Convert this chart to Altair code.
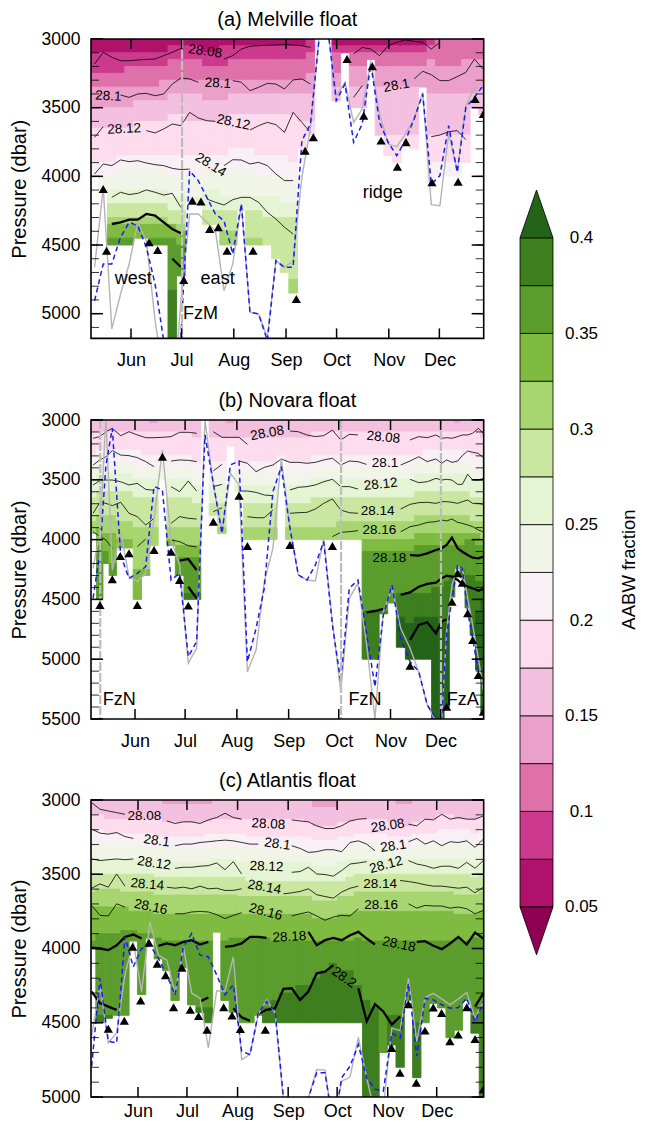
import altair as alt
import pandas as pd

FONT = "Liberation Sans"
BAND_KEYS = ["b050","b075","b100","b125","b150","b175","b200","b225","b250","b275","b300","b325","b350","b375","b400"]
BAND_COLORS = ["#b0126b","#cd3a8d","#de71a9","#eb9fcb","#f4c0e0","#fddcee","#f8f0f5","#f0f5e8","#e5f4d3","#c9e7a0","#a7d56f","#7fba41","#5b9d2d","#3d7e1e","#246419"]
LOW_COLOR = "#8e0152"
MONTHS = ["Jun","Jul","Aug","Sep","Oct","Nov","Dec"]
MONTH_DAYS = [31,61,92,123,153,184,214]
NONE = 9999

# ---------- (a) Melville ----------
a_days = [9.4,14.5,19.6,24.8,29.9,35,40.1,45.3,50.4,55.5,60.6,65.8,70.9,76,81.1,86.2,91.4,96.5,101.6,106.7,111.9,117,122.1,127.2,132.4,137.5,142.6,147.7,152.8,158,163.1,168.2,173.3,178.5,183.6,188.7,193.8,199,204.1,209.2,214.3,219.5,224.6,229.7,234.8,239.9]
a_bottom = [4000,4100,4500,4500,4500,4450,4450,4500,4500,5400,4725,4200,4200,4350,4350,4500,4500,4250,4500,4500,4500,4600,4700,4850,3800,3700,3000,3000,3450,3100,3500,3500,3150,3700,3850,3900,3750,3800,3350,4050,4000,4000,4000,3900,3500,3550]
a_bands = {
"b075":[3100,3100,3100,3100,3100,3100,3100,3100,3100,3050,3050,3050,3050,3100,3100,3050,3050,3050,3050,3050,3050,3050,3050,3050,3050,3000,3000,3000,3050,3050,3050,3050,3050,3050,3050,3050,3050,3050,3050,3000,3000,3000,3000,3000,3000,3000],
"b100":[3250,3250,3250,3250,3200,3200,3200,3200,3200,3150,3150,3150,3150,3200,3200,3200,3150,3150,3150,3150,3150,3150,3150,3150,3150,3100,3100,3100,3100,3100,3100,3100,3100,3100,3100,3100,3100,3100,3100,3050,3000,3000,3000,3000,3000,3000],
"b125":[3350,3350,3350,3350,3350,3350,3350,3350,3300,3300,3300,3300,3300,3300,3300,3300,3300,3300,3300,3300,3300,3300,3300,3300,3300,3250,3250,3250,3250,3250,3200,3200,3200,3200,3200,3200,3200,3200,3200,3150,3200,3200,3200,3150,3150,3150],
"b150":[3500,3500,3500,3500,3500,3450,3450,3450,3450,3400,3400,3400,3400,3450,3450,3450,3400,3400,3400,3400,3400,3400,3400,3400,3400,3400,3400,3400,3350,3350,3350,3350,3350,3350,3350,3350,3350,3350,3350,3400,3400,3400,3400,3400,3400,3350],
"b175":[3650,3650,3650,3650,3650,3600,3600,3600,3600,3550,3550,3600,3600,3600,3600,3600,3550,3550,3550,3550,3550,3550,3550,3550,3600,3600,3600,3600,3600,3600,3600,3600,3600,3700,3700,3700,3700,3700,3700,3700,3700,3700,3700,3700,3650,3650],
"b200":[3900,3900,3900,3850,3850,3850,3850,3850,3850,3850,3850,3850,3850,3850,3850,3850,3800,3800,3800,3850,3850,3850,3850,3900,3950,NONE,NONE,NONE,NONE,NONE,NONE,NONE,NONE,NONE,3850,3950,NONE,NONE,NONE,3900,3900,3900,3900,3900,NONE,NONE],
"b225":[4000,4000,4000,3950,3950,3950,3950,3950,3950,4000,4000,4000,4000,3950,3950,3950,3950,3950,3950,4000,4000,4000,4000,4050,4050,NONE,NONE,NONE,NONE,NONE,NONE,NONE,NONE,NONE,NONE,NONE,NONE,NONE,NONE,NONE,NONE,NONE,NONE,NONE,NONE,NONE],
"b250":[4100,4100,4100,4100,4100,4100,4100,4100,4100,4150,4150,4150,4150,4100,4100,4150,4150,4150,4150,4150,4150,4150,4200,4200,NONE,NONE,NONE,NONE,NONE,NONE,NONE,NONE,NONE,NONE,NONE,NONE,NONE,NONE,NONE,NONE,NONE,NONE,NONE,NONE,NONE,NONE],
"b275":[4200,4200,4200,4200,4200,4200,4200,4200,4200,4250,4250,4250,4250,4250,4250,4250,4250,4250,4250,4250,4300,4300,4300,4300,NONE,NONE,NONE,NONE,NONE,NONE,NONE,NONE,NONE,NONE,NONE,NONE,NONE,NONE,NONE,NONE,NONE,NONE,NONE,NONE,NONE,NONE],
"b300":[4300,4300,4300,4300,4300,4300,4300,4300,4300,4350,4350,4350,4350,4400,4400,4400,4400,4400,4450,4450,4500,4600,4700,4750,NONE,NONE,NONE,NONE,NONE,NONE,NONE,NONE,NONE,NONE,NONE,NONE,NONE,NONE,NONE,NONE,NONE,NONE,NONE,NONE,NONE,NONE],
"b325":[4400,4350,4350,4350,4350,4350,4350,4350,4350,4350,4400,NONE,NONE,NONE,NONE,NONE,NONE,NONE,NONE,NONE,NONE,NONE,NONE,NONE,NONE,NONE,NONE,NONE,NONE,NONE,NONE,NONE,NONE,NONE,NONE,NONE,NONE,NONE,NONE,NONE,NONE,NONE,NONE,NONE,NONE,NONE],
"b350":[NONE,4450,4450,4450,4450,4450,4450,4450,4450,4450,4500,NONE,NONE,NONE,NONE,NONE,NONE,NONE,NONE,NONE,NONE,NONE,NONE,NONE,NONE,NONE,NONE,NONE,NONE,NONE,NONE,NONE,NONE,NONE,NONE,NONE,NONE,NONE,NONE,NONE,NONE,NONE,NONE,NONE,NONE,NONE],
"b375":[NONE,NONE,NONE,NONE,NONE,NONE,NONE,NONE,NONE,4830,NONE,NONE,NONE,NONE,NONE,NONE,NONE,NONE,NONE,NONE,NONE,NONE,NONE,NONE,NONE,NONE,NONE,NONE,NONE,NONE,NONE,NONE,NONE,NONE,NONE,NONE,NONE,NONE,NONE,NONE,NONE,NONE,NONE,NONE,NONE,NONE],
}
a_thin = [(0,[3182,3097,3133,3158,3158,3153,3148,3146,3121,3097,3068]),(15,[3146,3121,3073,3053,3049,3046,3044,3041,3044,3049,3061]),(30,[3109,3061,3073,3121,3049,3024,3007,3017,3024,3073,3024]),
(3,[3408,3425,3400,3396,3413,3400,3328,3284,3291,3315]),(16,[3303,3315,3376,3352,3323,3328,3364,3298,3291,3328]),(30,[3425,3340]),(37,[3291,3235,3260,3303,3303,3274,3243,3146,3218]),
(0,[3716,3638]),(6,[3667,3684,3655,3619,3631,3534,3575,3595,3600]),(18,[3663,3631,3607,3624,3680,3534,3607,3680]),(39,[3711,3699,3675,3667,3733]),
(0,[3983,3910,3922,3881,3893,3886,3903,3915,3922,3942,3951,3947]),(15,[3922,3879,3881,3910,3898,3922,3983,4031,4031]),
(2,[4153,4116,4133,4124,4099,4116,4136,4124,4226]),(13,[4165,4189,4209,4170,4153,4153,4189,4262,4311,4371,4420])]
a_thick = [(2,[4347,4335,4315,4315,4274,4286,4335,4383,4415]),(9,[4600,4660])]
a_gray = [4662,4080,5111,4857,4638,4335,4468,5051,5463,5755,4905,4274,4274,4335,4396,4832,4638,4201,4990,5002,5172,4614,4662,4614,4007,3643,2988,2915,3413,3316,3607,3510,3158,3546,3765,3784,3692,3582,3388,4206,4214,3692,3959,3485,3357,3357]
a_blue = [4905,4638,4638,4444,4335,4359,4517,4784,5196,5682,5172,3959,4031,4153,4274,4323,4565,4201,4990,5002,5196,4614,4662,4662,3740,3619,3000,2915,3449,3328,3752,3619,3182,3607,3752,3849,3740,3582,3400,4056,3995,3631,3971,3498,3425,3340]
a_tri_d = [14.5,16.5,41.7,46.8,62.3,67.4,72.5,77.7,82.8,88,103.4,129.1,134.3,139.2,159.2,169.1,174.2,179.4,189.1,194.2,209.6,225.1,235.2,240.1]
a_tri_p = [4092,4541,4480,4536,4755,4177,4184,4383,4371,4541,4541,4893,3813,3716,3146,3558,3199,3740,3930,3752,4044,4039,3437,3546]
a_labels = [("28.08",75,3090,8),("28.1",82.6,3323,3),("28.1",17.6,3417,3),("28.1",188.6,3340,-10),("28.12",27,3655,-3),("28.12",91.7,3607,12),("28.14",78.3,3917,32)]
a_notes = [("west",32.4,4747),("east",82.4,4747),("FzM",72.3,5002),("ridge",180.4,4124)]
a_vlines = [61.3]

# ---------- (b) Novara ----------
b_days = [5.9,10,13.6,17.4,22.4,27.4,32.4,37.4,42.4,47.4,52.6,57.7,62.9,67.9,72.9,77.9,83.1,88.1,93.3,98.3,103.5,108.4,113.6,118.6,123.8,128.8,134,139,144,149.2,154.2,159.3,164.5,169.5,174.7,179.7,184.9,190.1,195.7,200.9,206,211.2,214.6,217.6,220.8,224.2,227,230.2,233.2,236.6,239.6]
b_bottom = [3950,4500,4200,4300,4070,4070,4500,4300,4050,3500,4050,4300,4500,4500,3000,3800,3950,3220,3600,4000,4000,4000,4000,3330,4000,4000,4000,4000,4000,4000,4000,4000,4000,5000,5000,4620,4530,4900,5000,5000,5000,5500,5500,5400,4480,4240,4320,4570,4800,5090,5450]
b_bands = {
"b150":[3000,3000,3000,3000,3000,3000,3000,3000,3030,3000,3000,3000,3000,3000,3000,3000,3000,3030,3000,3000,3000,3000,3000,3000,3000,3000,3000,3000,3000,3000,3000,3000,3000,3000,3000,3000,3000,3000,3000,3000,3000,3000,3000,3000,3000,3030,3000,3000,3000,3000,3000],
"b175":[3100,3100,3100,3100,3100,3100,3100,3100,3100,3100,3100,3100,3100,3150,3150,3150,3150,3150,3150,3150,3150,3150,3150,3150,3150,3150,3150,3100,3100,3100,3100,3100,3100,3100,3100,3100,3100,3100,3100,3100,3100,3100,3100,3100,3100,3100,3100,3100,3100,3100,3150],
"b200":[3300,3250,3250,3250,3250,3250,3250,3300,3300,3300,3300,3300,3300,3350,3350,3350,3350,3350,3350,3350,3350,3350,3350,3300,3350,3350,3350,3300,3300,3300,3300,3300,3300,3300,3300,3300,3300,3300,3300,3300,3250,3250,3250,3250,3250,3250,3250,3250,3300,3300,3300],
"b225":[3400,3350,3350,3350,3350,3350,3400,3400,3400,3400,3400,3400,3400,3450,3450,3450,3450,3450,3450,3450,3450,3450,3450,3400,3450,3450,3450,3400,3400,3400,3400,3400,3400,3400,3400,3400,3400,3400,3400,3350,3350,3350,3350,3350,3350,3350,3350,3350,3400,3400,3400],
"b250":[3500,3450,3450,3450,3450,3450,3500,3500,3500,3500,3500,3500,3500,3550,3550,3550,3550,3550,3550,3550,3550,3550,3550,3500,3550,3550,3550,3500,3500,3500,3500,3500,3500,3500,3500,3500,3500,3500,3500,3450,3450,3450,3450,3450,3450,3450,3450,3450,3500,3500,3500],
"b275":[3650,3600,3600,3600,3600,3600,3650,3650,3650,3650,3650,3650,3650,3700,3700,3700,3700,3700,3700,3700,3700,3700,3700,3650,3700,3700,3700,3650,3650,3650,3650,3650,3650,3650,3650,3650,3650,3650,3650,3600,3600,3600,3600,3600,3600,3600,3600,3600,3650,3650,3650],
"b300":[3850,3800,3800,3800,3850,3850,3900,3900,3900,3900,3900,3900,3900,3900,3900,3900,3900,3900,3900,3900,3900,3900,3900,3900,3900,3900,3900,3900,3900,3900,3850,3850,3850,3850,3850,3850,3850,3850,3850,3800,3800,3800,3800,3800,3800,3800,3800,3800,3850,3850,3850],
"b325":[3950,3900,3950,3950,4000,4000,4250,4250,4050,NONE,4000,4050,4050,4050,NONE,NONE,NONE,NONE,NONE,NONE,NONE,NONE,NONE,NONE,NONE,NONE,NONE,NONE,NONE,NONE,NONE,NONE,NONE,4000,4000,4000,4000,4000,4000,3950,3950,3950,3950,3950,3950,3950,3950,3950,3950,3950,4000],
"b350":[4100,4050,4100,4200,NONE,NONE,NONE,NONE,NONE,NONE,NONE,4150,4150,4150,NONE,NONE,NONE,NONE,NONE,NONE,NONE,NONE,NONE,NONE,NONE,NONE,NONE,NONE,NONE,NONE,NONE,NONE,NONE,4100,4100,4100,4100,4100,4100,4050,4050,4050,4050,4050,4050,4050,4050,4000,4000,4050,4050],
"b375":[NONE,NONE,NONE,NONE,NONE,NONE,NONE,NONE,NONE,NONE,NONE,NONE,4450,4450,NONE,NONE,NONE,NONE,NONE,NONE,NONE,NONE,NONE,NONE,NONE,NONE,NONE,NONE,NONE,NONE,NONE,NONE,NONE,4600,4600,4600,4600,4450,4450,4450,4450,4400,4400,4350,4300,4250,4250,4300,4300,4350,4350],
"b400":[NONE,NONE,NONE,NONE,NONE,NONE,NONE,NONE,NONE,NONE,NONE,NONE,NONE,NONE,NONE,NONE,NONE,NONE,NONE,NONE,NONE,NONE,NONE,NONE,NONE,NONE,NONE,NONE,NONE,NONE,NONE,NONE,NONE,NONE,NONE,NONE,NONE,4650,4700,4650,4650,4650,4700,4700,NONE,NONE,NONE,NONE,4700,4600,4500],
}
b_thin = [(0,[3153,3139,3098,3070,3131,3098,3125,3148,3148,3145,3139,3103,3103,3111]),(15,[3098,3145,3145,3145,3203]),(24,[3092,3098,3125,3139,3131,3084,3167,3120,3125]),(38,[3167,3139,3148,3125,3153,3148,3153,3139,3125,3125,3111,3070,3111]),
(0,[3376,3334,3307,3256,3293,3298,3315,3348,3390]),(10,[3343,3334,3337,3348]),(15,[3426,3371]),(18,[3343,3362,3432,3396,3376,3326,3354,3354,3362,3354,3334,3320,3376,3343,3348,3371]),(37,[3376,3343,3307,3348,3326,3362,3334,3354,3343,3298,3259,3270,3279,3315]),
(0,[3543,3507,3502,3502,3516,3543,3530,3580,3588]),(10,[3557,3599,3510,3594]),(15,[3557,3538]),(18,[3594,3594,3605,3627,3633]),(24,[3585,3563,3557,3543,3516,3496,3557,3557,3577]),(38,[3496,3524,3516,3488,3502,3496,3502,3538,3538,3454,3502,3502,3488]),
(0,[3780,3688,3697,3716,3688,3780,3808,3878,3822]),(10,[3864,3808,3822,3828]),(15,[3766,3733]),(19,[3808,3817,3817,3752]),(24,[3780,3775,3772,3744,3697,3660,3752,3775,3780]),(37,[3744,3705,3691,3688,3697,3683,3683,3688,3697,3683,3669,3697,3697,3705]),
(0,[3934,3975,4003,4073]),(6,[4059,3995]),(10,[4003,4017,4051,4062]),(29,[3975,3939,3934,3925]),(37,[3934,3892,3878,3856,3850,3836,3844,3828,3856,3864,3878,3892,3920,3934])]
b_thick = [(11,[4176,4162,4254]),(38,[4129,4134,4115,4087,4073,4045,3984,4073,4101,4129,4151,4157,4143]),(12,[4394,4491]),(37,[4463,4441,4394,4371,4360,4324,4302,4310,4338,4374,4394,4407,4427,4413]),(33,[4608,4597,4580]),(38,[4839,4714,4692,4784,4686,4667])]
b_gray = [4240,3934,2986,4254,3934,4310,4352,4282,3822,3251,4003,4212,5034,4909,3000,3543,3934,3446,3543,5104,4923,4352,4073,3321,3906,4296,4338,4346,3989,4686,5271,4491,4366,4853,5500,4602,4407,4742,4909,5104,5383,5522,5522,4770,4380,4226,4240,4491,4714,4993,5257]
b_blue = [4491,4101,3376,3070,4129,4324,4282,4226,3557,3585,4338,4282,4979,4853,3125,3530,3948,3376,3343,5021,4742,4407,3599,3390,3906,4296,4338,4212,4017,4714,5188,4407,4338,4770,5230,4630,4380,4825,5021,5104,5383,5494,5494,4798,4491,4212,4240,4602,4825,5104,5216]
b_tri_d = [10,17.4,22.2,27.4,32.4,42.4,47.4,52.6,57.7,62.9,77.9,93.3,98.3,123.8,149.2,195.7,217.6,220.8,224.2,227,230.2,233.2,236.6,239.6]
b_tri_p = [4547,4332,4137,4115,4547,4087,3307,4101,4338,4552,3850,3633,4053,4045,4053,5054,5397,4519,4282,4360,4616,4839,5132,5439]
b_labels = [("28.08",110.2,3111,-10),("28.08",179.7,3145,5),("28.1",180.7,3362,0),("28.12",178.1,3538,-6),("28.14",176.3,3758,0),("28.16",177.3,3922,0),("28.18",183.3,4157,0)]
b_notes = [("FzN",21.6,5341),("FzN",168.7,5341),("FzA",227.2,5341)]
b_vlines = [10.2,154.4,214.2]

# ---------- (c) Atlantis ----------
c_days = [2.6,7.7,12.8,17.9,23,28.1,33.2,38.3,43.5,48.6,53.7,58.8,63.9,69,74.1,79.2,84.3,89.4,94.5,99.6,104.7,109.8,115,120.1,125.2,130.3,135.4,140.5,145.6,150.7,155.8,160.9,166,171.1,176.2,181.3,186.5,191.6,196.7,201.8,206.9,212,217.1,222.2,227.3,232.4,237.5,242.6]
c_bottom = [4000,4500,4470,4450,4450,3950,4310,3930,4070,4150,4350,4130,4380,4430,4500,3890,4350,4430,4500,4500,4450,4500,4500,4500,4500,4500,4500,4500,4500,4500,4500,4500,4500,5000,5000,4700,4650,4800,4350,4870,4500,4370,4400,4600,4550,4350,4570,5000]
c_bands = {
"b150":[3000,3000,3000,3000,3000,3000,3000,3000,3000,3030,3030,3030,3030,3030,3030,3000,3000,3000,3000,3000,3000,3000,3000,3000,3000,3000,3000,3050,3050,3050,3000,3000,3000,3000,3000,3000,3000,3030,3030,3000,3000,3000,3000,3000,3000,3000,3000,3000],
"b175":[3100,3100,3130,3130,3130,3130,3130,3130,3130,3150,3150,3150,3150,3150,3150,3130,3130,3130,3130,3130,3130,3130,3130,3130,3130,3130,3150,3180,3180,3180,3150,3150,3130,3130,3130,3130,3150,3150,3180,3150,3130,3130,3100,3100,3130,3130,3130,3100],
"b200":[3200,3200,3230,3230,3230,3230,3230,3230,3250,3250,3250,3250,3250,3250,3230,3230,3230,3230,3230,3250,3250,3250,3250,3250,3250,3250,3250,3270,3270,3270,3250,3250,3230,3230,3230,3230,3250,3250,3250,3230,3230,3230,3200,3200,3200,3200,3230,3200],
"b225":[3300,3300,3300,3300,3300,3300,3320,3320,3320,3320,3320,3320,3320,3320,3320,3320,3300,3320,3320,3320,3320,3320,3320,3320,3320,3350,3350,3350,3350,3350,3320,3320,3300,3300,3300,3320,3320,3320,3320,3320,3300,3300,3300,3300,3300,3300,3320,3300],
"b250":[3400,3400,3400,3400,3400,3400,3400,3400,3400,3400,3420,3420,3420,3420,3420,3400,3400,3400,3420,3420,3420,3420,3420,3420,3420,3420,3420,3450,3450,3450,3420,3400,3400,3400,3400,3400,3400,3400,3400,3400,3400,3400,3400,3400,3400,3400,3420,3400],
"b275":[3500,3500,3500,3500,3500,3500,3500,3500,3520,3520,3520,3520,3520,3520,3520,3520,3520,3520,3520,3550,3550,3550,3550,3550,3550,3550,3550,3550,3550,3550,3550,3520,3500,3500,3500,3500,3500,3500,3500,3500,3500,3500,3500,3500,3500,3500,3520,3500],
"b300":[3620,3600,3600,3600,3620,3620,3620,3620,3640,3640,3640,3640,3640,3640,3640,3640,3640,3640,3650,3650,3650,3650,3650,3650,3650,3650,3650,3680,3680,3680,3650,3650,3620,3620,3620,3620,3620,3620,3620,3620,3620,3620,3620,3620,3640,3640,3640,3620],
"b325":[3720,3720,3720,3720,3720,3750,3750,3750,3770,3770,3770,3770,3770,3770,3770,3770,3770,3770,3770,3770,3770,3770,3770,3770,3770,3770,3770,3800,3800,3800,3770,3770,3750,3750,3750,3750,3750,3750,3750,3750,3750,3750,3750,3750,3770,3770,3770,3750],
"b350":[3950,3900,3900,3900,3880,3880,3900,3900,3930,3950,3950,3950,3950,3950,3950,3950,3950,3930,3930,3930,3930,3930,3950,3950,3950,3950,3950,3950,3950,3950,3950,3950,3930,3950,3950,3950,3950,3950,3950,3950,3950,3950,3950,3950,3930,3950,3930,3930],
"b375":[4450,4450,4450,4450,4450,NONE,NONE,NONE,NONE,NONE,NONE,NONE,NONE,4400,4400,NONE,NONE,NONE,NONE,NONE,NONE,4400,4350,4300,4300,4250,4250,4200,4150,4100,4150,4150,4250,4350,4400,NONE,4450,4450,NONE,4500,NONE,NONE,NONE,NONE,NONE,NONE,4450,4400],
}
c_thin = [(0,[3018,3062,3074,3085,3096]),(9,[3141,3158,3147,3147,3158,3134,3118,3089,3118,3129]),(24,[3134,3141,3147,3174,3192,3192,3174,3141,3129,3125]),(38,[3163,3174,3129,3134,3096,3129,3118,3129,3129,3107]),
(0,[3196,3223,3230,3219,3246,3259]),(10,[3308,3297,3297,3286,3281,3275,3270,3275,3286,3297,3297]),(24,[3308,3326,3353,3348,3335,3335,3348,3286,3275,3297,3342]),(38,[3281,3259,3297,3275,3308,3281,3286,3275,3319,3263]),
(0,[3397,3408,3402,3397,3402,3397]),(10,[3460,3453,3453,3446,3442,3424,3469,3415,3498]),(24,[3487,3482,3453,3498,3502,3513,3475,3431,3424,3415]),(38,[3408,3431,3442,3460,3446,3446,3460,3420,3460,3408]),
(0,[3594,3565,3587,3498,3580]),(9,[3587,3594,3587,3598,3580,3598,3594,3609,3609,3598]),(23,[3632,3625,3616,3598,3638,3650,3661,3620,3594,3580]),(37,[3542,3549,3558,3571,3580,3580,3587,3594,3587,3625,3587]),
(0,[3710,3777,3781,3699,3721]),(10,[3766,3766,3754,3750,3754,3772,3799,3777,3759]),(24,[3781,3766,3754,3781,3810,3788,3777,3781,3732]),(38,[3699,3728,3710,3714,3714,3728,3721,3732,3766,3743])]
c_thick = [(0,[3995,4000,4011,3978,3922,3906,3933]),(8,[3982,3966,3978,3955,3944,3973,3955]),(16,[3989,3982,3966,3922,3922,3929]),(26,[3888,3978,3944,3929,3944,3911,3888,3933,3973]),(39,[3955,3951,3982,4004,3966,3922,3973,3893,3933]),
(0,[4290,4368,4391,4413]),(13,[4357,4330]),(17,[4402,4464,4487]),(20,[4440,4413,4402,4272,4268,4346,4290,4167,4156,4112]),(32,[4268,4491,4375,4424,4513,4458]),(46,[4391,4301])]
c_gray = [4591,4245,4636,4569,4178,3955,4290,3821,4045,4078,4301,3989,4301,4335,4670,4286,4286,4056,4748,4714,4446,4346,4435,5027,5205,5205,5004,4815,4819,5205,4893,4866,4598,4870,5116,5071,4536,4553,4201,4625,4330,4301,4339,4379,4339,4295,4469,4357]
c_blue = [4792,4201,4625,4636,3922,4123,4000,3978,4067,4178,4312,3989,3899,4045,4056,4178,4312,4245,4692,4714,4435,4357,4424,5004,5250,5228,5004,4837,4837,5205,4870,4792,4647,4870,4948,4960,4569,4603,4234,4725,4335,4346,4379,4402,4397,4335,4491,4357]
c_tri_d = [12.8,22.6,27.7,32.6,37.7,42.8,47.9,52.8,57.9,63,68.1,73.3,83.5,88.6,93.7,109,186.4,191.5,196.6,201.5,206.8,211.9,217,222.1,227.2,232.4,237.5,242.6]
c_tri_p = [4540,4487,3989,4350,3962,4103,4181,4395,4129,4413,4455,4547,4395,4451,4542,4547,4670,4837,4375,4904,4553,4397,4435,4625,4580,4395,4609,4948]
c_labels = [("28.08",34.9,3107,0),("28.08",110.9,3163,3),("28.08",184,3174,-8),("28.1",42.4,3275,8),("28.1",116.4,3297,8),("28.1",187.5,3312,-8),("28.12",40.8,3426,8),("28.12",109.8,3449,2),("28.12",183,3437,-15),("28.14",36.7,3569,5),("28.14",108.4,3587,10),("28.14",179.3,3569,0),("28.16",38.8,3721,12),("28.16",109.2,3754,15),("28.16",179.9,3710,0),("28.18",123.7,3922,-3),("28.18",190.9,3973,12),("28.2",157.2,4196,35)]
c_notes = []
c_vlines = []

# ---------- colour bar ----------
bar_edges = [0.05,0.075,0.1,0.125,0.15,0.175,0.2,0.225,0.25,0.275,0.3,0.325,0.35,0.375,0.4,0.425]
bar_ticks = [0.05,0.1,0.15,0.2,0.25,0.3,0.35,0.4]

W = 392.7
color_scale = alt.Scale(domain=BAND_KEYS, range=BAND_COLORS)


def segs(pairs, days):
    rows = []
    for i, (start, vals) in enumerate(pairs):
        for j, v in enumerate(vals):
            rows.append({"s": i, "d": days[start + j], "p": v})
    return pd.DataFrame(rows)


def panel(title, days, bottom, bands, thin, thick, gray, blue, tri_d, tri_p, labels, notes, vlines, xdom, ymax, h, xpad):
    xs = alt.Scale(domain=xdom, nice=False, zero=False)
    ys = alt.Scale(domain=[3000, ymax], reverse=True, nice=False, zero=False)
    xaxis = alt.Axis(values=MONTH_DAYS, title=None, tickSize=0, domain=False, grid=False,
                labelExpr="{31:'Jun',61:'Jul',92:'Aug',123:'Sep',153:'Oct',184:'Nov',214:'Dec'}[datum.value]",
                labelFontSize=18, labelPadding=xpad, labelFont=FONT, labelColor="black", labelOverlap=False, labelFlush=False)
    yaxis = alt.Axis(values=list(range(3000, int(ymax) + 1, 500)), title="Pressure (dbar)", tickSize=0, domain=False, grid=False,
                format="d", labelFontSize=17.5, labelPadding=11, labelFont=FONT, labelColor="black", labelOverlap=False, labelFlush=False,
                titleFontSize=20, titleFont=FONT, titleFontWeight="normal", titleColor="black", titlePadding=12)
    X = alt.X("d:Q", scale=xs, axis=xaxis)
    Y = alt.Y("p:Q", scale=ys, axis=yaxis)

    # cells
    edges = [xdom[0] - 5] + [(days[i] + days[i + 1]) / 2 for i in range(len(days) - 1)] + [xdom[1] + 5]
    order = [k for k in BAND_KEYS if k in bands]
    first = BAND_KEYS[BAND_KEYS.index(order[0]) - 1]
    keys = [first] + order
    rows = []
    for k in range(len(days)):
        tops = [3000] + [bands[o][k] for o in order]
        for i, key in enumerate(keys):
            t = tops[i]
            b = min([bottom[k]] + tops[i + 1:])
            if t < b:
                rows.append({"d": edges[k], "d2": edges[k + 1], "p": t, "p2": b, "c": key})
    cells = alt.Chart(pd.DataFrame(rows)).mark_rect(strokeWidth=0.9, clip=True).encode(
        x=X, x2="d2:Q", y=Y, y2="p2:Q",
        color=alt.Color("c:N", scale=color_scale, legend=None),
        stroke=alt.Stroke("c:N", scale=color_scale, legend=None),
    )
    layers = [cells]

    thin_df = segs(thin, days)
    layers.append(alt.Chart(thin_df).mark_line(color="black", strokeWidth=0.8, clip=True).encode(x=X, y=Y, detail="s:N", order="d:Q"))
    thick_df = segs(thick, days)
    layers.append(alt.Chart(thick_df).mark_line(color="black", strokeWidth=2.3, clip=True).encode(x=X, y=Y, detail="s:N", order="d:Q"))

    lines = pd.DataFrame({"d": days, "g": gray, "b": blue})
    layers.append(alt.Chart(lines).mark_line(color="#b4b4b4", strokeWidth=1.4, clip=True).encode(x=X, y=alt.Y("g:Q", scale=ys, axis=yaxis)))
    layers.append(alt.Chart(lines).mark_line(color="#1c1cf0", strokeWidth=1.5, strokeDash=[5, 3.5], clip=True).encode(x=X, y=alt.Y("b:Q", scale=ys, axis=yaxis)))

    if vlines:
        layers.append(alt.Chart(pd.DataFrame({"d": vlines})).mark_rule(color="#bdbdbd", strokeWidth=2.2, strokeDash=[9, 2]).encode(x=X, y=alt.value(0), y2=alt.value(h)))

    layers.append(alt.Chart(pd.DataFrame({"d": tri_d, "p": tri_p})).mark_point(shape="triangle-up", filled=True, color="black", size=85, opacity=1, clip=True).encode(x=X, y=Y))

    lab = pd.DataFrame([{"t": t, "d": d, "p": p, "a": a % 360} for t, d, p, a in labels])
    layers.append(alt.Chart(lab).mark_text(font=FONT, fontSize=13.5, color="black", align="center", baseline="middle").encode(
        x=X, y=Y, text="t:N", angle=alt.Angle("a:Q", scale=None)))
    if notes:
        nt = pd.DataFrame([{"t": t, "d": d, "p": p} for t, d, p in notes])
        layers.append(alt.Chart(nt).mark_text(font=FONT, fontSize=18, color="black", align="center", baseline="middle").encode(x=X, y=Y, text="t:N"))

    # inward ticks
    ymajor = pd.DataFrame({"p": list(range(3000, int(ymax) + 1, 500))})
    yminor = pd.DataFrame({"p": list(range(3000, int(ymax) + 1, 100))})
    months = pd.DataFrame({"d": MONTH_DAYS})
    layers += [
        alt.Chart(yminor).mark_rule(color="black", strokeWidth=0.8).encode(y=Y, x=alt.value(0), x2=alt.value(8)),
        alt.Chart(yminor).mark_rule(color="black", strokeWidth=0.8).encode(y=Y, x=alt.value(W - 8), x2=alt.value(W)),
        alt.Chart(ymajor).mark_rule(color="black", strokeWidth=1.5).encode(y=Y, x=alt.value(0), x2=alt.value(12)),
        alt.Chart(ymajor).mark_rule(color="black", strokeWidth=1.5).encode(y=Y, x=alt.value(W - 12), x2=alt.value(W)),
        alt.Chart(months).mark_rule(color="black", strokeWidth=1.5).encode(x=X, y=alt.value(0), y2=alt.value(10)),
        alt.Chart(months).mark_rule(color="black", strokeWidth=1.5).encode(x=X, y=alt.value(h - 10), y2=alt.value(h)),
        alt.Chart(pd.DataFrame({"f": [1]})).mark_rect(fillOpacity=0, stroke="black", strokeWidth=1.6).encode(
            x=alt.value(0), x2=alt.value(W), y=alt.value(0), y2=alt.value(h)),
    ]
    return alt.layer(*layers).properties(
        width=W, height=h,
        title=alt.TitleParams(title, font=FONT, fontSize=20, fontWeight="normal", color="black", offset=0, anchor="middle"),
    )


pa = panel("(a) Melville float", a_days, a_bottom, a_bands, a_thin, a_thick, a_gray, a_blue, a_tri_d, a_tri_p, a_labels, a_notes, a_vlines, [7.26, 240.3], 5180, 299.4, 13)
pb = panel("(b) Novara float", b_days, b_bottom, b_bands, b_thin, b_thick, b_gray, b_blue, b_tri_d, b_tri_p, b_labels, b_notes, b_vlines, [4.65, 239.8], 5500, 299, 13)
pc = panel("(c) Atlantis float", c_days, c_bottom, c_bands, c_thin, c_thick, c_gray, c_blue, c_tri_d, c_tri_p, c_labels, c_notes, c_vlines, [2.2, 242.8], 5000, 297, 5)

# colour bar
BH = 1050
by = alt.Scale(domain=[-0.0452, 0.5040], nice=False, zero=False)
bx = alt.Scale(domain=[0, 1], nice=False, zero=False)
baxis = alt.Axis(orient="right", values=bar_ticks, format=".2~f", tickSize=0, domain=False, grid=False,
            labelAlign="center", labelPadding=28, labelFontSize=17, labelFont=FONT, labelColor="black", labelOverlap=False, labelFlush=False,
            title="AABW fraction", titleFontSize=18.5, titleFont=FONT, titleFontWeight="normal", titleColor="black", titleAngle=270, titlePadding=41, titleY=530)
bar_rows = []
for i in range(len(bar_edges) - 2):
    bar_rows.append({"lo": bar_edges[i], "hi": bar_edges[i + 1], "c": BAND_KEYS[i]})
bar = alt.Chart(pd.DataFrame(bar_rows)).mark_rect(stroke="black", strokeWidth=0.8).encode(
    x=alt.value(0), x2=alt.value(33),
    y=alt.Y("lo:Q", scale=by, axis=baxis),
    y2="hi:Q",
    color=alt.Color("c:N", scale=alt.Scale(domain=BAND_KEYS[:14], range=BAND_COLORS[:14]), legend=None),
)
tip_up = pd.DataFrame({"x": [0, 0.5, 1], "y": [0.4, 0.425, 0.4], "y2": [0.4, 0.4, 0.4]})
tip_dn = pd.DataFrame({"x": [0, 0.5, 1], "y": [0.05, 0.025, 0.05], "y2": [0.05, 0.05, 0.05]})
tx = alt.X("x:Q", scale=bx, axis=None)
ty = alt.Y("y:Q", scale=by, axis=baxis)
up = alt.Chart(tip_up).mark_area(color=BAND_COLORS[-1], stroke="black", strokeWidth=0.8).encode(x=tx, y=ty, y2="y2:Q")
dn = alt.Chart(tip_dn).mark_area(color=LOW_COLOR, stroke="black", strokeWidth=0.8).encode(x=tx, y=ty, y2="y2:Q")
colorbar = alt.layer(bar, up, dn).properties(width=33, height=BH)

left = alt.vconcat(pa, pb, pc, spacing=21)
chart = alt.hconcat(left, colorbar, spacing=33).properties(padding={"left": 1, "top": 2, "right": 0, "bottom": 0}, background="white").configure_view(stroke=None)

chart.save("out.html", embed_options={"renderer": "svg", "actions": False})
